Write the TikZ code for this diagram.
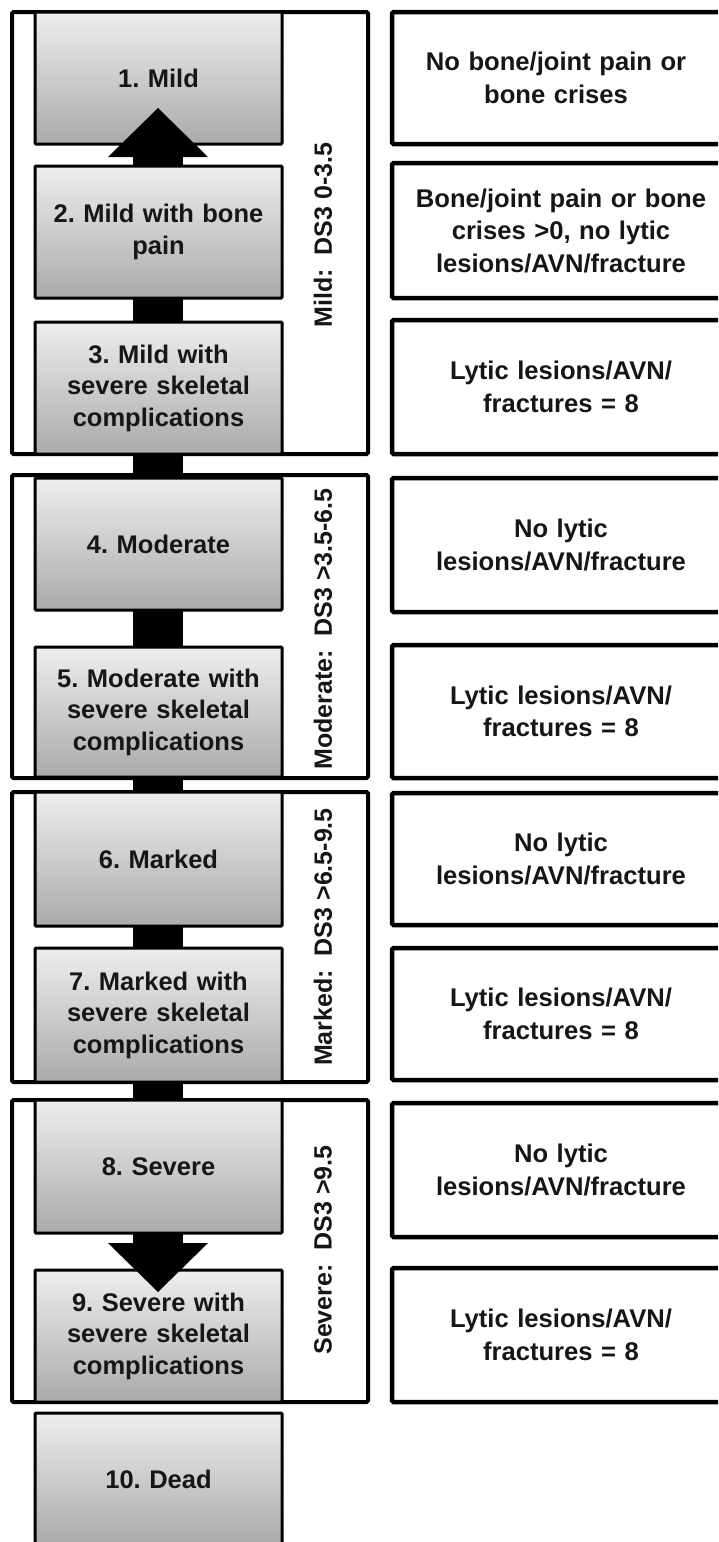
\documentclass[tikz,border=0pt]{standalone}
\usepackage{fontspec}
\setmainfont{Liberation Sans}
\definecolor{gtop}{RGB}{238,238,238}
\definecolor{gbot}{RGB}{170,170,170}
\definecolor{txt}{RGB}{22,22,22}
\frenchspacing
\newcommand\boxfont{\fontsize{25.5}{31.5}\selectfont\bfseries}
\newcommand\rfont{\fontsize{25.6}{32.5}\selectfont\bfseries}
\newcommand\lfont{\fontsize{25}{30}\selectfont\bfseries}
\tikzset{
  grp/.style={draw=black, line width=4pt, fill=white, rounded corners=1.5pt},
  gbox/.style={draw=black, line width=3pt, top color=gtop, bottom color=gbot,
    rounded corners=1pt, minimum width=247pt, align=center, text width=240pt,
    font=\boxfont, text=txt, inner sep=0pt},
  rbox/.style={draw=black, line width=4.5pt, fill=white, rounded corners=1.5pt,
    minimum width=360pt, inner sep=0pt},
  rtext/.style={align=center, text width=310pt, font=\rfont, text=txt},
  vlab/.style={rotate=90, font=\lfont, text=txt},
  blockarrow/.style={fill=black}
}
\begin{document}
\begin{tikzpicture}[x=1pt,y=-1pt]
\useasboundingbox (0,0) rectangle (718,1542);
\clip (0,0) rectangle (718,1542);
% group frames
\node[grp, minimum width=356pt, minimum height=442pt] (g1) at (190,233) {};
\node[grp, minimum width=356pt, minimum height=303pt] (g2) at (190,626.5) {};
\node[grp, minimum width=356pt, minimum height=290pt] (g3) at (190,937) {};
\node[grp, minimum width=356pt, minimum height=302pt] (g4) at (190,1251) {};
% right boxes
\node[rbox, minimum height=132pt] (r1) at (572,78) {};
\node[rbox, minimum height=135pt] (r2) at (572,230.5) {};
\node[rbox, minimum height=134pt] (r3) at (572,387) {};
\node[rbox, minimum height=134pt] (r4) at (572,545) {};
\node[rbox, minimum height=133pt] (r5) at (572,711.5) {};
\node[rbox, minimum height=132pt] (r6) at (572,859) {};
\node[rbox, minimum height=132pt] (r7) at (572,1014) {};
\node[rbox, minimum height=134pt] (r8) at (572,1170) {};
\node[rbox, minimum height=134pt] (r9) at (572,1335) {};
\node[rtext] (r1t) at (556,78) {No bone/joint pain or\\bone crises};
\node[rtext] (r2t) at (561,230.5) {Bone/joint pain or bone\\crises >0, no lytic\\lesions/AVN/fracture};
\node[rtext] (r3t) at (561,387) {Lytic lesions/AVN/\\fractures = 8};
\node[rtext] (r4t) at (561,545) {No lytic\\lesions/AVN/fracture};
\node[rtext] (r5t) at (561,711.5) {Lytic lesions/AVN/\\fractures = 8};
\node[rtext] (r6t) at (561,859) {No lytic\\lesions/AVN/fracture};
\node[rtext] (r7t) at (561,1014) {Lytic lesions/AVN/\\fractures = 8};
\node[rtext] (r8t) at (561,1170) {No lytic\\lesions/AVN/fracture};
\node[rtext] (r9t) at (561,1335) {Lytic lesions/AVN/\\fractures = 8};
% shaft of the block arrow (behind the state boxes)
\coordinate (sTop) at (133,157);
\coordinate (sBot) at (183,1243);
\fill[blockarrow] (sTop) rectangle (sBot);
% state boxes
\node[gbox, minimum height=132pt] (b1) at (158.5,78) {1. Mild};
\node[gbox, minimum height=132pt] (b2) at (158.5,232) {2. Mild with bone\\pain};
\node[gbox, minimum height=132pt] (b3) at (158.5,388) {3. Mild with\\severe skeletal\\complications};
\node[gbox, minimum height=132pt] (b4) at (158.5,544) {4. Moderate};
\node[gbox, minimum height=130pt] (b5) at (158.5,712) {5. Moderate with\\severe skeletal\\complications};
\node[gbox, minimum height=134pt] (b6) at (158.5,859) {6. Marked};
\node[gbox, minimum height=134pt] (b7) at (158.5,1015) {7. Marked with\\severe skeletal\\complications};
\node[gbox, minimum height=133pt] (b8) at (158.5,1166.5) {8. Severe};
\node[gbox, minimum height=132pt] (b9) at (158.5,1336) {9. Severe with\\severe skeletal\\complications};
\node[gbox, minimum height=132pt] (b10) at (158.5,1479) {10. Dead};
% arrow heads
\coordinate (tipU) at (158,108);
\coordinate (tipD) at (158,1292);
\fill[blockarrow] (108,157) -- (tipU) -- (208,157) -- cycle;
\fill[blockarrow] (108,1243) -- (tipD) -- (208,1243) -- cycle;
% severity labels
\node[vlab] (l1) at (323,235) {Mild:\ \ DS3 0-3.5};
\node[vlab] (l2) at (323,629) {Moderate:\ \ DS3 >3.5-6.5};
\node[vlab] (l3) at (323,937) {Marked:\ \ DS3 >6.5-9.5};
\node[vlab] (l4) at (323,1250) {Severe:\ \ DS3 >9.5};
\end{tikzpicture}
\end{document}
